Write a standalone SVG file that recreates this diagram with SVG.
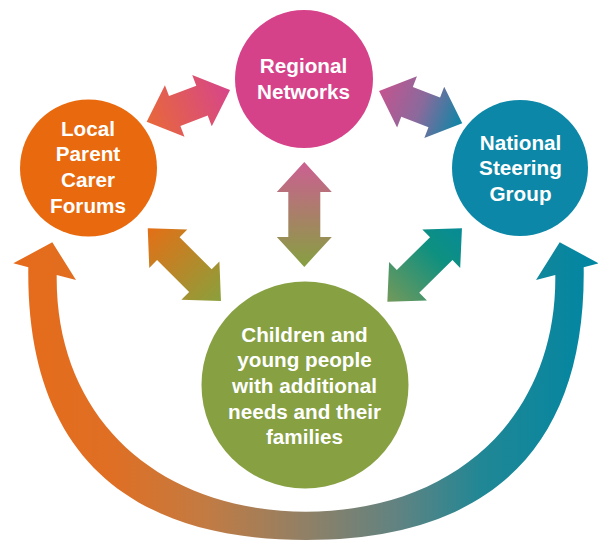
<svg xmlns="http://www.w3.org/2000/svg" width="598" height="542" viewBox="0 0 598 542">
<defs>
<style>
.lbl{font-family:"Liberation Sans",Arial,sans-serif;font-weight:bold;font-size:20.7px;fill:#ffffff;text-anchor:middle}
</style>
<linearGradient id="gArc" gradientUnits="userSpaceOnUse" x1="13" y1="0" x2="599" y2="0">
<stop offset="0" stop-color="#E66B1A"/>
<stop offset="0.17" stop-color="#DF6F24"/>
<stop offset="0.33" stop-color="#C27B43"/>
<stop offset="0.5" stop-color="#908066"/>
<stop offset="0.66" stop-color="#5F8382"/>
<stop offset="0.8" stop-color="#208795"/>
<stop offset="1" stop-color="#0086A3"/>
</linearGradient>
<linearGradient id="g1" x1="0" y1="0" x2="1" y2="0"><stop offset="0" stop-color="#E8683A"/><stop offset="1" stop-color="#D6468A"/></linearGradient>
<linearGradient id="g2" x1="0" y1="0" x2="1" y2="0"><stop offset="0" stop-color="#C4548F"/><stop offset="0.5" stop-color="#8A6A9C"/><stop offset="1" stop-color="#0A86A6"/></linearGradient>
<linearGradient id="g3" x1="0" y1="0" x2="1" y2="0"><stop offset="0" stop-color="#CC5F92"/><stop offset="1" stop-color="#86A040"/></linearGradient>
<linearGradient id="g4" x1="0" y1="0" x2="1" y2="0"><stop offset="0" stop-color="#E46F16"/><stop offset="1" stop-color="#8AA03C"/></linearGradient>
<linearGradient id="g5" x1="0" y1="0" x2="1" y2="0"><stop offset="0" stop-color="#078B96"/><stop offset="0.35" stop-color="#0E9080"/><stop offset="1" stop-color="#73995A"/></linearGradient>
</defs>
<rect width="598" height="542" fill="#ffffff"/>
<g id="connectors">
<path id="arc" fill="url(#gArc)" d="M52.3,242.3 L76,280 L56.7,274.9 C55,420 161,511.7 306,511.7 C451,511.7 557,420 555.3,274.9 L536,280 L559.7,242.3 L598.7,263.3 L583.7,267.3 C586,450 487,540 306,540 C125,540 26,450 28.3,267.3 L13.3,263.3 Z"/>
<path id="arrow-local-regional" fill="url(#g1)" transform="translate(188.35,105.85) rotate(-20.83)" d="M-44.6,0 L-14.6,-27.5 L-14.6,-16 L14.6,-16 L14.6,-27.5 L44.6,0 L14.6,27.5 L14.6,16 L-14.6,16 L-14.6,27.5 Z"/>
<path id="arrow-regional-national" fill="url(#g2)" transform="translate(420.65,107.15) rotate(21.2)" d="M-44.6,0 L-14.6,-27.5 L-14.6,-16 L14.6,-16 L14.6,-27.5 L44.6,0 L14.6,27.5 L14.6,16 L-14.6,16 L-14.6,27.5 Z"/>
<path id="arrow-regional-children" fill="url(#g3)" transform="translate(304.3,214.4) rotate(90)" d="M-52.5,0 L-22.5,-27.5 L-22.5,-16 L22.5,-16 L22.5,-27.5 L52.5,0 L22.5,27.5 L22.5,16 L-22.5,16 L-22.5,27.5 Z"/>
<path id="arrow-local-children" fill="url(#g4)" transform="translate(184.35,264.65) rotate(44.8)" d="M-51.6,0 L-22.6,-27 L-22.6,-16 L22.6,-16 L22.6,-27 L51.6,0 L22.6,27 L22.6,16 L-22.6,16 L-22.6,27 Z"/>
<path id="arrow-national-children" fill="url(#g5)" transform="translate(424.65,265) rotate(135.5)" d="M-52.3,0 L-23.3,-27 L-23.3,-16 L23.3,-16 L23.3,-27 L52.3,0 L23.3,27 L23.3,16 L-23.3,16 L-23.3,27 Z"/>
</g>
<g id="node-local">
<circle cx="88.5" cy="168" r="68.5" fill="#E8690E"/>
<text class="lbl" x="88" y="135.5">Local</text>
<text class="lbl" x="88" y="161">Parent</text>
<text class="lbl" x="88" y="186.8">Carer</text>
<text class="lbl" x="88" y="212.5">Forums</text>
</g>
<g id="node-regional">
<circle cx="304" cy="79" r="69" fill="#D5428A"/>
<text class="lbl" x="303.5" y="73.3">Regional</text>
<text class="lbl" x="303.5" y="99">Networks</text>
</g>
<g id="node-national">
<circle cx="520" cy="168" r="68" fill="#0C87A7"/>
<text class="lbl" x="520.5" y="149.5">National</text>
<text class="lbl" x="520.5" y="175.3">Steering</text>
<text class="lbl" x="520.5" y="201">Group</text>
</g>
<g id="node-children">
<circle cx="305" cy="385" r="103.5" fill="#86A042"/>
<text class="lbl" x="304.5" y="341.7">Children and</text>
<text class="lbl" x="304.5" y="367.4">young people</text>
<text class="lbl" x="304.5" y="393.1">with additional</text>
<text class="lbl" x="304.5" y="418.8">needs and their</text>
<text class="lbl" x="304.5" y="444.4">families</text>
</g>
</svg>
